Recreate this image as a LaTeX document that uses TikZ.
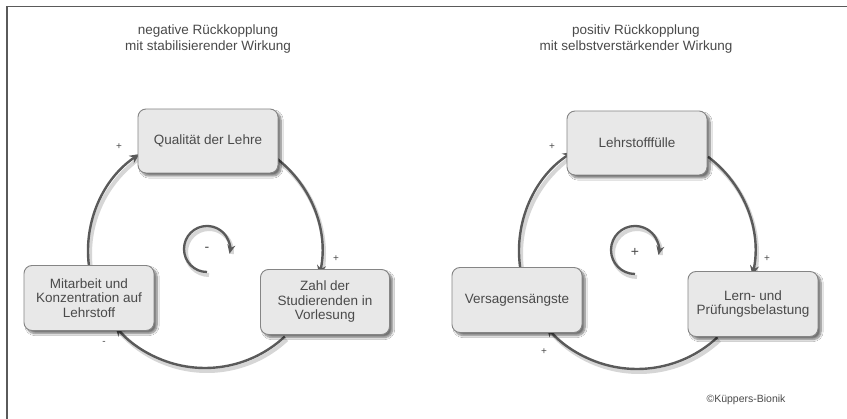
\documentclass[tikz,border=0pt]{standalone}
\usepackage{fontspec}
\setmainfont{Liberation Sans}
\usetikzlibrary{arrows.meta,shadows.blur}

\definecolor{framegray}{HTML}{5A5A5A}
\definecolor{boxfill}{HTML}{E8E8E8}
\definecolor{boxline}{HTML}{858585}
\definecolor{inkgray}{HTML}{4A4A4A}
\definecolor{loopgray}{HTML}{5A5A5A}

\tikzset{
  factor/.style={draw=boxline, line width=0.9pt, fill=boxfill, rounded corners=8pt,
    minimum width=#1, minimum height=65pt, inner sep=2pt, align=center,
    text=inkgray, font=\fontsize{13.5}{14.5}\selectfont,
    blur shadow={shadow xshift=3pt, shadow yshift=-3pt, shadow blur steps=8, shadow opacity=55}},
  factor/.default=130pt,
  caption/.style={text=inkgray, align=center, font=\fontsize{13.5}{16}\selectfont},
  sign/.style={text=inkgray, font=\fontsize{10}{10}\selectfont, inner sep=0pt},
  feedback/.style={draw=loopgray, line width=2.4pt,
    -{Stealth[length=10pt,width=9pt]}},
  spin/.style={draw=loopgray, line width=2.3pt,
    -{Stealth[length=9pt,width=8pt]}},
  halo/.style={draw=black!16, line width=4pt},
}

\begin{document}
\begin{tikzpicture}[x=1pt,y=1pt]
  \useasboundingbox (0,0) rectangle (847,419);
  \fill[white] (0,0) rectangle (847,419);

  % outer frame (top and left edges)
  \draw[framegray, line width=1.8pt] (7,0) -- (7,412.5) -- (847,412.5);

  % loop centres
  \coordinate (O1) at (205,168);
  \coordinate (O2) at (637,168);
  \coordinate (S1) at (207,170);
  \coordinate (S2) at (635,169);

  % ---------- headings ----------
  \node[caption] (t1) at (208,380) {negative Rückkopplung\\mit stabilisierender Wirkung};
  \node[caption] (t2) at (636,380) {positiv Rückkopplung\\mit selbstverstärkender Wirkung};

  % ---------- soft shading under the loops ----------
  \draw[halo] ([shift={(52:117)}]O1) ++(2,-3) arc[start angle=52, end angle=-12, radius=117];
  \draw[halo] ([shift={(-47:117)}]O1) ++(2,-3) arc[start angle=-47, end angle=-140, radius=117];
  \draw[halo] ([shift={(187:117)}]O1) ++(2,-3) arc[start angle=187, end angle=124, radius=117];
  \draw[halo] ([shift={(53:118)}]O2) ++(2,-3) arc[start angle=53, end angle=-12, radius=118];
  \draw[halo] ([shift={(-47:118)}]O2) ++(2,-3) arc[start angle=-47, end angle=-140, radius=118];
  \draw[halo] ([shift={(188:118)}]O2) ++(2,-3) arc[start angle=188, end angle=123, radius=118];
  \draw[halo] ([shift={(-90:23)}]S1) ++(2,-3) arc[start angle=270, end angle=-5, radius=23];
  \draw[halo] ([shift={(-90:24)}]S2) ++(2,-3) arc[start angle=270, end angle=-5, radius=24];

  % ---------- feedback loop arcs: negative loop ----------
  \coordinate (q1) at ([shift={(52:117)}]O1);
  \coordinate (z1) at ([shift={(-47:117)}]O1);
  \coordinate (m1) at ([shift={(187:117)}]O1);
  \draw[feedback] (q1) arc[start angle=52, end angle=-12, radius=117];
  \draw[feedback] (z1) arc[start angle=-47, end angle=-140, radius=117];
  \draw[feedback] (m1) arc[start angle=187, end angle=124, radius=117];

  % ---------- feedback loop arcs: positive loop ----------
  \coordinate (l2) at ([shift={(53:118)}]O2);
  \coordinate (p2) at ([shift={(-47:118)}]O2);
  \coordinate (v2) at ([shift={(188:118)}]O2);
  \draw[feedback] (l2) arc[start angle=53, end angle=-12, radius=118];
  \draw[feedback] (p2) arc[start angle=-47, end angle=-140, radius=118];
  \draw[feedback] (v2) arc[start angle=188, end angle=123, radius=118];

  % ---------- factors ----------
  \node[factor=140pt, minimum height=64pt] (Q) at (208,278) {Qualität der Lehre};
  \node[factor] (M) at (89,121) {Mitarbeit und\\Konzentration auf\\Lehrstoff};
  \node[factor=129pt] (Z) at (325,117) {Zahl der\\Studierenden in\\Vorlesung};

  \node[factor=140pt, minimum height=64pt] (L) at (637,276) {Lehrstofffülle};
  \node[factor] (V) at (517,119) {Versagensängste};
  \node[factor] (P) at (753,115) {Lern- und\\Prüfungsbelastung};

  % ---------- polarity marks ----------
  \node[sign] (s1) at (119,272) {+};
  \node[sign] (s2) at (336,160) {+};
  \node[sign] (s3) at (104,76) {-};
  \node[sign] (s4) at (552,272) {+};
  \node[sign] (s5) at (767,160) {+};
  \node[sign] (s6) at (544,67) {+};

  % ---------- loop type symbols ----------
  \draw[spin] ([shift={(-90:23)}]S1) arc[start angle=270, end angle=-12, radius=23];
  \node[text=inkgray, font=\fontsize{14}{14}\selectfont] (neg) at (S1) {-};
  \draw[spin] ([shift={(-90:24)}]S2) arc[start angle=270, end angle=-12, radius=24];
  \node[text=inkgray, font=\fontsize{14}{14}\selectfont] (pos) at ([yshift=-2pt]S2) {+};

  % ---------- credit ----------
  \node[text=inkgray, font=\fontsize{10.5}{11}\selectfont] (credit) at (746,19) {©Küppers-Bionik};
\end{tikzpicture}
\end{document}
